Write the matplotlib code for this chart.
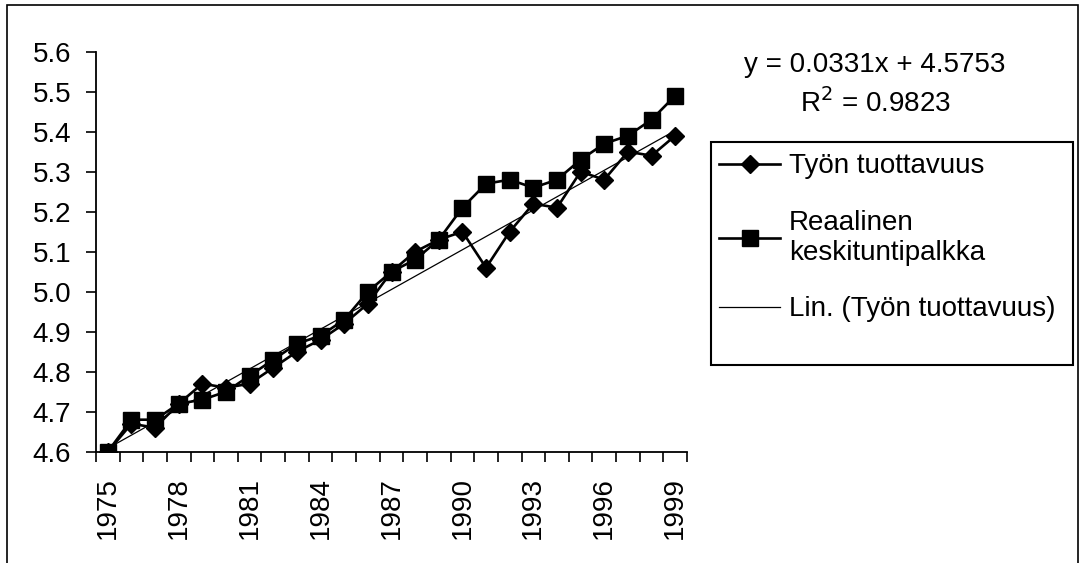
import numpy as np
import matplotlib.pyplot as plt
from matplotlib.patches import Rectangle

# data
years = np.arange(1975, 2000)
tyon_tuottavuus = [4.60, 4.67, 4.66, 4.72, 4.77, 4.76, 4.77, 4.81, 4.85, 4.88,
                   4.92, 4.97, 5.05, 5.10, 5.13, 5.15, 5.06, 5.15, 5.22, 5.21,
                   5.30, 5.28, 5.35, 5.34, 5.39]
reaalipalkka = [4.60, 4.68, 4.68, 4.72, 4.73, 4.75, 4.79, 4.83, 4.87, 4.89,
                4.93, 5.00, 5.05, 5.08, 5.13, 5.21, 5.27, 5.28, 5.26, 5.28,
                5.33, 5.37, 5.39, 5.43, 5.49]
# Excel trendline from the label
slope = 0.0331
intercept = 4.5753

yticks = [4.6, 4.7, 4.8, 4.9, 5.0, 5.1, 5.2, 5.3, 5.4, 5.5, 5.6]
label_years = list(range(1975, 2000, 3))

plt.rcParams['font.family'] = ['Liberation Sans', 'DejaVu Sans']
FS = 20

fig = plt.figure(figsize=(10.82, 5.63), dpi=100)
ax = fig.add_axes([96/1082, 1-451.7/563, (687-96)/1082, 400/563])

trend = slope * (years - 1974) + intercept
l1, = ax.plot(years, tyon_tuottavuus, color='black', lw=1.9, marker='D',
              markersize=9.5, label='Työn tuottavuus', zorder=3)
l2, = ax.plot(years, reaalipalkka, color='black', lw=1.9, marker='s',
              markersize=12, label='Reaalinen\nkeskituntipalkka', zorder=3)
l3, = ax.plot(years, trend, color='black', lw=0.9,
              label='Lin. (Työn tuottavuus)', zorder=2)

ax.set_xlim(1974.5, 1999.5)
ax.set_ylim(4.6, 5.6)
ax.set_yticks(yticks)
ax.set_yticklabels([f"{v:.1f}" for v in yticks], fontsize=FS)

# category axis: tick marks between categories, labels every third year
ax.set_xticks(np.arange(1974.5, 2000, 1.0))
ax.set_xticklabels([])
ax.set_xticks(label_years, minor=True)
ax.set_xticklabels([str(y) for y in label_years], minor=True, rotation=90,
                   fontsize=FS)
ax.tick_params(axis='x', which='major', direction='out', length=7, width=1.2)
ax.tick_params(axis='x', which='minor', length=0, pad=18)
ax.tick_params(axis='y', direction='out', length=7, width=1.2, pad=11)

for s in ['top', 'right']:
    ax.spines[s].set_visible(False)
for s in ['left', 'bottom']:
    ax.spines[s].set_linewidth(1.3)
ax.patch.set_alpha(0)

fig.text(875/1082, 1-65/563, "y = 0.0331x + 4.5753", ha='center', va='center',
         fontsize=FS)
fig.text(875/1082, 1-103/563, "R$^2$ = 0.9823", ha='center', va='center',
         fontsize=FS)

leg = fig.legend(handles=[l1, l2, l3], loc='upper left',
                 bbox_to_anchor=(711/1082, 1-145/563), borderaxespad=0,
                 fontsize=FS, frameon=False, handlelength=2.2,
                 handletextpad=0.3, borderpad=0.3, labelspacing=1.1,
                 numpoints=1)

# legend box (Excel leaves extra room at the bottom)
fig.add_artist(Rectangle((711/1082, 1-365/563), (1073-711)/1082, (365-142)/563,
                         transform=fig.transFigure, fill=False,
                         edgecolor='black', lw=1.5))

# chart area border
fig.add_artist(Rectangle((7/1082, -0.05), (1078-7)/1082, 1.05-5/563,
                         transform=fig.transFigure, fill=False,
                         edgecolor='black', lw=1.2))

fig.savefig('out.png', dpi=100)
